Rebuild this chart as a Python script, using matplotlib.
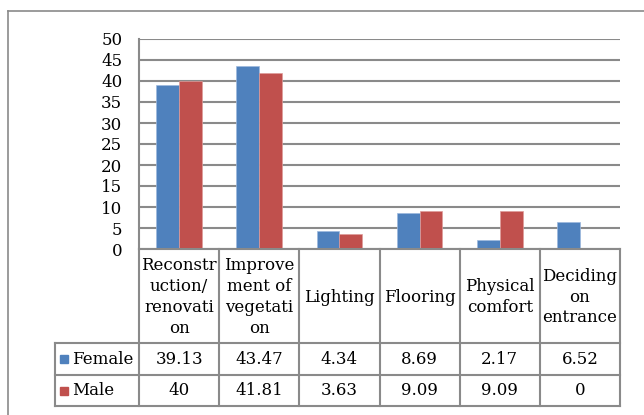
import matplotlib
matplotlib.use("Agg")
import matplotlib.pyplot as plt
import numpy as np
from matplotlib.lines import Line2D
from matplotlib.patches import Rectangle

categories = ["Reconstr\nuction/\nrenovati\non", "Improve\nment of\nvegetati\non",
              "Lighting", "Flooring", "Physical\ncomfort", "Deciding\non\nentrance"]
female = [39.13, 43.47, 4.34, 8.69, 2.17, 6.52]
male = [40, 41.81, 3.63, 9.09, 9.09, 0]
female_txt = ["39.13", "43.47", "4.34", "8.69", "2.17", "6.52"]
male_txt = ["40", "41.81", "3.63", "9.09", "9.09", "0"]
series = [("Female", female, female_txt, "#4F81BD"), ("Male", male, male_txt, "#C0504D")]

W, H = 644, 415
plt.rcParams['font.family'] = ['DejaVu Serif']
fs = 12
fig = plt.figure(figsize=(W / 100, H / 100), dpi=100, facecolor="white")

def px(x, y):
    return x / W, 1 - y / H

grid_c = "#8A8A8A"

# outer chart border (cropped at right/bottom)
fig.add_artist(Line2D([px(8, 0)[0], px(8, 0)[0]], [px(0, 11)[1], 0], color=grid_c, lw=1.2))
fig.add_artist(Line2D([px(8, 0)[0], 1], [px(0, 11)[1], px(0, 11)[1]], color=grid_c, lw=1.2))

# plot area
L, R, T, B = 139, 620, 39, 249
ax = fig.add_axes([L / W, 1 - B / H, (R - L) / W, (B - T) / H])
x = np.arange(len(categories))
bw = 1 / 3.5
ax.bar(x - bw / 2, female, bw, color=series[0][3], edgecolor="#9DB9DE", linewidth=0.5, zorder=3)
ax.bar(x + bw / 2, male, bw, color=series[1][3], edgecolor="#DE9C9A", linewidth=0.5, zorder=3)
ax.set_xlim(-0.5, len(categories) - 0.5)
ax.set_ylim(0, 50)
ax.set_yticks(np.arange(0, 51, 5))
ax.set_xticks([])
ax.yaxis.grid(True, color=grid_c, lw=1.5, zorder=0)
for s in ["top", "right", "bottom"]:
    ax.spines[s].set_visible(False)
ax.spines["left"].set_color(grid_c)
ax.spines["left"].set_linewidth(1.5)
ax.tick_params(axis="y", length=0, pad=12, labelsize=fs)

# data table
col_w = (R - L) / len(categories)
rows_y = [249, 343, 375, 406]
lkw = dict(color=grid_c, lw=1.5)
for i in range(len(categories) + 1):
    xx = L + i * col_w
    fig.add_artist(Line2D([xx / W] * 2, [px(0, rows_y[0])[1], px(0, rows_y[-1])[1]], **lkw))
fig.add_artist(Line2D([L / W, R / W], [px(0, 249)[1]] * 2, **lkw))
for yy in rows_y[1:]:
    fig.add_artist(Line2D([55 / W, R / W], [px(0, yy)[1]] * 2, **lkw))
fig.add_artist(Line2D([55 / W] * 2, [px(0, 343)[1], px(0, 406)[1]], **lkw))

for i, c in enumerate(categories):
    cx = L + (i + 0.5) * col_w
    fig.text(*px(cx, (rows_y[0] + rows_y[1]) / 2 + 1), c, ha="center", va="center",
             fontsize=fs, linespacing=1.3)

for r, (name, vals, txts, col) in enumerate(series):
    cy = (rows_y[r + 1] + rows_y[r + 2]) / 2
    fig.add_artist(Rectangle(px(60, cy + 4), 8 / W, 8 / H, color=col))
    fig.text(*px(72, cy), name, ha="left", va="center", fontsize=fs)
    for i, t in enumerate(txts):
        cx = L + (i + 0.5) * col_w
        fig.text(*px(cx, cy), t, ha="center", va="center", fontsize=fs)

fig.savefig("out.png", dpi=100)
